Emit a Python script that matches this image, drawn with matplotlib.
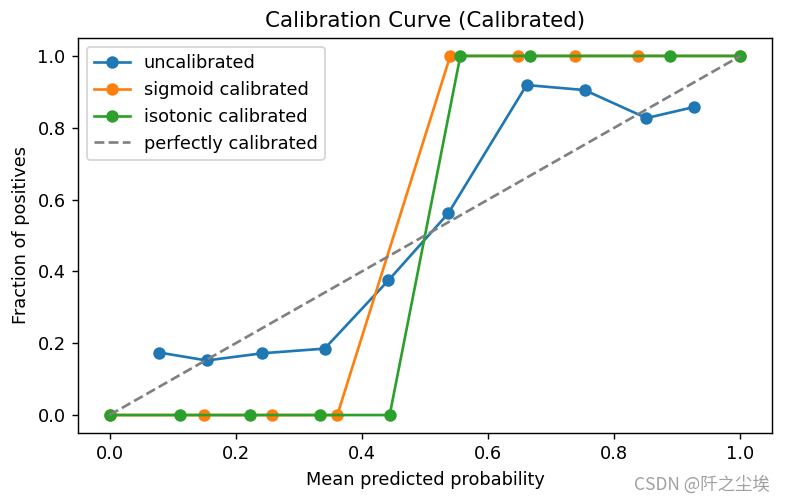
import matplotlib
matplotlib.use("Agg")
import matplotlib.pyplot as plt

# values
uncal_x = [0.079, 0.154, 0.242, 0.341, 0.442, 0.537, 0.661, 0.753, 0.851, 0.927]
uncal_y = [0.174, 0.152, 0.172, 0.185, 0.375, 0.562, 0.919, 0.905, 0.827, 0.858]

sig_x = [0.0, 0.149, 0.258, 0.361, 0.540, 0.647, 0.738, 0.837, 1.0]
sig_y = [0.0, 0.0, 0.0, 0.0, 1.0, 1.0, 1.0, 1.0, 1.0]

iso_x = [0.0, 0.111, 0.222, 0.333, 0.444, 0.556, 0.667, 0.889, 1.0]
iso_y = [0.0, 0.0, 0.0, 0.0, 0.0, 1.0, 1.0, 1.0, 1.0]

DPI = 128
fig = plt.figure(figsize=(785 / DPI, 502 / DPI), dpi=DPI)
ax = fig.add_axes([78 / 785, 1 - 433 / 502, 694 / 785, 395 / 502])

ax.plot(uncal_x, uncal_y, marker="o", label="uncalibrated")
ax.plot(sig_x, sig_y, marker="o", label="sigmoid calibrated")
ax.plot(iso_x, iso_y, marker="o", label="isotonic calibrated")
ax.plot([0, 1], [0, 1], linestyle="--", color="gray", label="perfectly calibrated")

ax.set_xlabel("Mean predicted probability")
ax.set_ylabel("Fraction of positives")
ax.set_title("Calibration Curve (Calibrated)", fontsize=12)
ax.legend(loc="upper left")

fig.text(0.981, 0.035, "CSDN @阡之尘埃", ha="right", va="center", color="#a0a0a0",
         fontsize=9.8, family=["Noto Sans CJK SC", "DejaVu Sans"])

fig.savefig("out.png", dpi=DPI)
